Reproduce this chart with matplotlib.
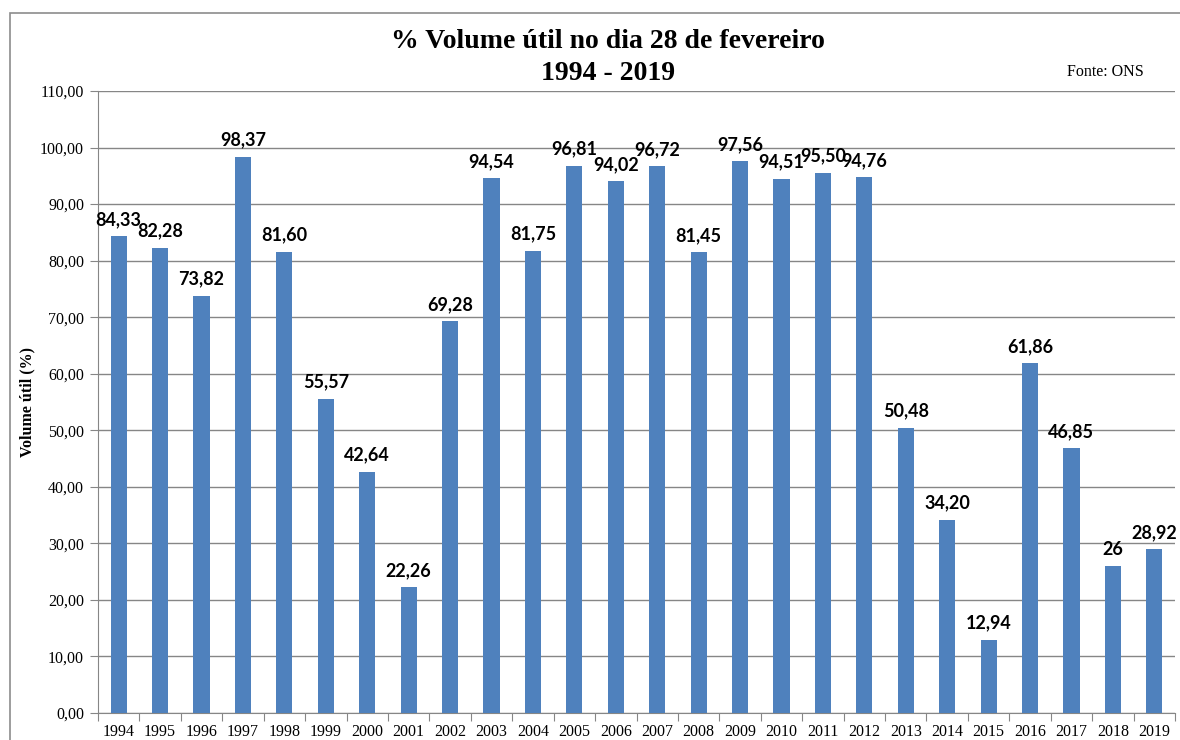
import matplotlib
matplotlib.use("Agg")
import matplotlib.pyplot as plt
from matplotlib.patches import Rectangle
from matplotlib.ticker import FuncFormatter, FixedLocator, NullFormatter
import numpy as np

# Data
years = ['1994', '1995', '1996', '1997', '1998', '1999', '2000', '2001', '2002',
         '2003', '2004', '2005', '2006', '2007', '2008', '2009', '2010', '2011',
         '2012', '2013', '2014', '2015', '2016', '2017', '2018', '2019']
volume = [84.33, 82.28, 73.82, 98.37, 81.60, 55.57, 42.64, 22.26, 69.28,
          94.54, 81.75, 96.81, 94.02, 96.72, 81.45, 97.56, 94.51, 95.50,
          94.76, 50.48, 34.20, 12.94, 61.86, 46.85, 26.00, 28.92]
labels = ['84,33', '82,28', '73,82', '98,37', '81,60', '55,57', '42,64', '22,26',
          '69,28', '94,54', '81,75', '96,81', '94,02', '96,72', '81,45', '97,56',
          '94,51', '95,50', '94,76', '50,48', '34,20', '12,94', '61,86', '46,85',
          '26', '28,92']

serif = 'Liberation Serif'

fig = plt.figure(figsize=(11.8, 7.4), dpi=100)
fig.patch.set_facecolor('white')
# outer chart frame (right and bottom edges fall outside the picture)
fig.add_artist(Rectangle((10/1180, -0.05), 1.05, 1 - 13/740 + 0.05,
                         transform=fig.transFigure, fill=False,
                         edgecolor='#8c8c8c', linewidth=1.2))

ax = fig.add_axes([98/1180, 1 - 713/740, (1175 - 98)/1180, (713 - 91)/740])
x = np.arange(len(years))
ax.bar(x, volume, width=0.39, color='#4F81BD', zorder=3)

for xi, v, lab in zip(x, volume, labels):
    ax.annotate(lab, (xi, v), xytext=(0, 6), textcoords='offset points',
                ha='center', va='bottom', fontsize=13, fontweight='bold',
                family=['Lato', 'DejaVu Sans'], color='black', zorder=4)

ax.set_xlim(-0.5, len(years) - 0.5)
ax.set_ylim(0, 110)
ax.set_yticks(np.arange(0, 111, 10))
ax.yaxis.set_major_formatter(FuncFormatter(lambda v, p: ('%.2f' % v).replace('.', ',')))
ax.grid(axis='y', color='#868686', linewidth=1, zorder=0)

# ticks at category boundaries, labels at centers
ax.xaxis.set_major_locator(FixedLocator(np.arange(-0.5, len(years), 1)))
ax.xaxis.set_major_formatter(NullFormatter())
ax.xaxis.set_minor_locator(FixedLocator(x))
ax.set_xticklabels(years, minor=True)
ax.tick_params(axis='x', which='major', direction='out', length=6, color='#868686')
ax.tick_params(axis='x', which='minor', length=0, pad=8)
ax.tick_params(axis='y', direction='out', length=6, color='#868686', pad=4)
for t in ax.get_xticklabels(minor=True) + ax.get_yticklabels():
    t.set_fontfamily(serif)
    t.set_fontsize(11.5)

for s in ['top', 'right']:
    ax.spines[s].set_visible(False)
ax.spines['left'].set_color('#868686')
ax.spines['bottom'].set_color('#868686')

ax.set_ylabel('Volume útil (%)', fontfamily=serif, fontweight='bold', fontsize=11.5)
ax.yaxis.set_label_coords(-0.0585, 0.5)

fig.text(608/1180, 1 - 42/740, '% Volume útil no dia 28 de fevereiro',
         ha='center', va='center', fontfamily=serif, fontweight='bold', fontsize=20)
fig.text(608/1180, 1 - 73/740, '1994 - 2019',
         ha='center', va='center', fontfamily=serif, fontweight='bold', fontsize=20)
fig.text(1105/1180, 1 - 72/740, 'Fonte: ONS', ha='center', va='center',
         fontfamily=serif, fontsize=11.5)

fig.savefig('out.png', dpi=100, facecolor='white')
